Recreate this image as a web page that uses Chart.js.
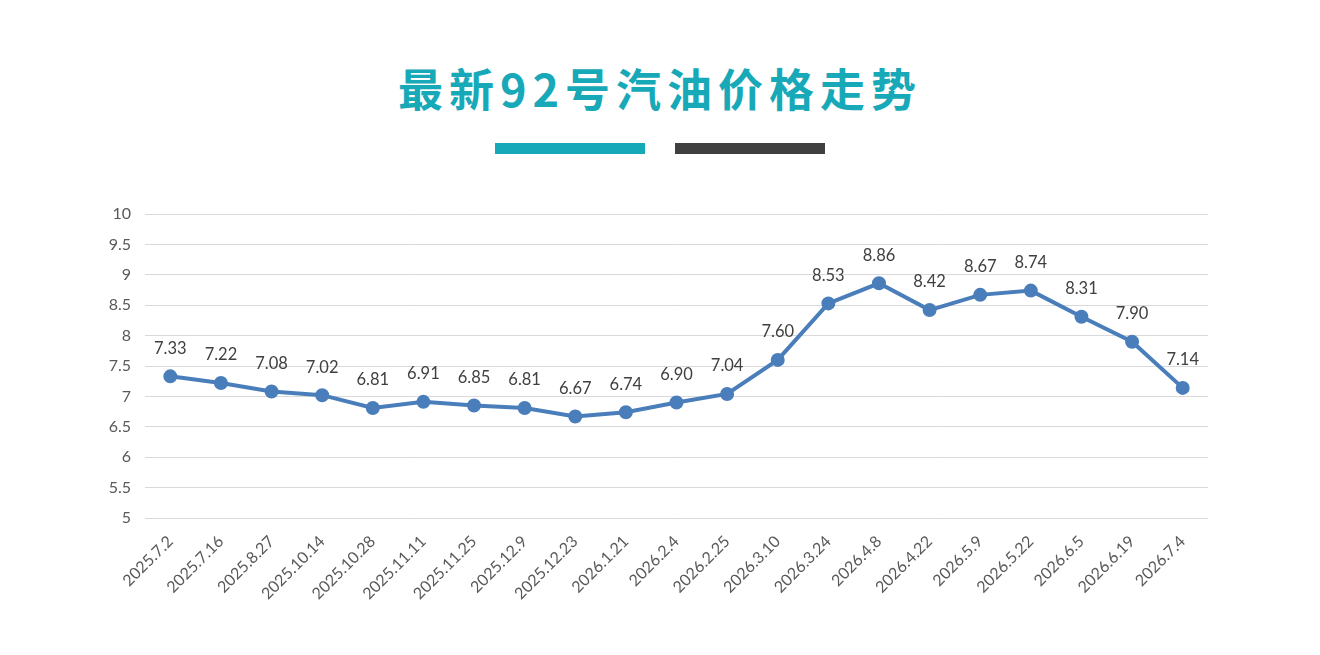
<!DOCTYPE html>
<html>
<head>
<meta charset="utf-8">
<script src="https://cdn.jsdelivr.net/npm/chart.js@4"></script>
<style>
  body { margin: 0; background: #fff; width: 1320px; height: 655px; overflow: hidden; position: relative; }
  #title {
    position: absolute; left: 0; top: 58px; width: 1320px; text-align: center;
    font-family: "Noto Sans CJK SC", sans-serif; font-weight: 700; font-size: 45px;
    letter-spacing: 6px; color: #17a9b8; line-height: 60px;
  }
  .bar { position: absolute; top: 143px; width: 150px; height: 11px; }
  #wrap { position: absolute; left: 0; top: 190px; width: 1320px; height: 465px; }
</style>
</head>
<body>
<div id="title">最新92号汽油价格走势</div>
<div class="bar" style="left:495px; background:#17a9b8;"></div>
<div class="bar" style="left:675px; background:#404040;"></div>
<div id="wrap"><canvas id="priceChart"></canvas></div>
<script>
// 92号汽油价格 (元/升)
var dates = ["2025.7.2", "2025.7.16", "2025.8.27", "2025.10.14", "2025.10.28", "2025.11.11",
  "2025.11.25", "2025.12.9", "2025.12.23", "2026.1.21", "2026.2.4", "2026.2.25", "2026.3.10",
  "2026.3.24", "2026.4.8", "2026.4.22", "2026.5.9", "2026.5.22", "2026.6.5", "2026.6.19", "2026.7.4"];
var prices = [7.33, 7.22, 7.08, 7.02, 6.81, 6.91, 6.85, 6.81, 6.67, 6.74, 6.90, 7.04, 7.60,
  8.53, 8.86, 8.42, 8.67, 8.74, 8.31, 7.90, 7.14];
var yMin = 5, yMax = 10, yStep = 0.5;

const FONT = "Lato, 'Open Sans', sans-serif";

// draws the value above each point
const valueLabels = {
  id: 'valueLabels',
  afterDatasetsDraw(chart) {
    const ctx = chart.ctx;
    const meta = chart.getDatasetMeta(0);
    ctx.save();
    ctx.font = "16.5px " + FONT;
    ctx.fillStyle = '#404040';
    ctx.textAlign = 'center';
    ctx.textBaseline = 'middle';
    meta.data.forEach((pt, i) => {
      ctx.fillText(prices[i].toFixed(2), pt.x, pt.y - 28);
    });
    ctx.restore();
  }
};

const config = {
  type: 'line',
  data: {
    labels: dates,
    datasets: [{
      data: prices,
      borderColor: '#4a7ebb',
      backgroundColor: '#4a7ebb',
      borderWidth: 4,
      pointRadius: 5,
      pointHoverRadius: 5,
      tension: 0
    }]
  },
  options: {
    responsive: true,
    maintainAspectRatio: false,
    animation: false,
    layout: { padding: { left: 0, right: 112, top: 24, bottom: 0 } },
    plugins: { legend: { display: false }, tooltip: { enabled: false } },
    scales: {
      x: {
        offset: true,
        grid: { display: false },
        border: { display: false },
        ticks: {
          color: '#595959', font: { family: FONT, size: 16 },
          minRotation: 45, maxRotation: 45, autoSkip: false, padding: 6
        },
        afterFit(scale) { scale.height = 137; }
      },
      y: {
        min: yMin, max: yMax,
        grid: { color: '#d9d9d9', drawTicks: false },
        border: { display: false },
        ticks: {
          stepSize: yStep, color: '#595959', font: { family: FONT, size: 16 }, padding: 14,
          callback: v => String(v)
        },
        afterFit(scale) { scale.width = 145; }
      }
    }
  },
  plugins: [valueLabels]
};

new Chart(document.getElementById('priceChart'), config);
</script>
</body>
</html>
